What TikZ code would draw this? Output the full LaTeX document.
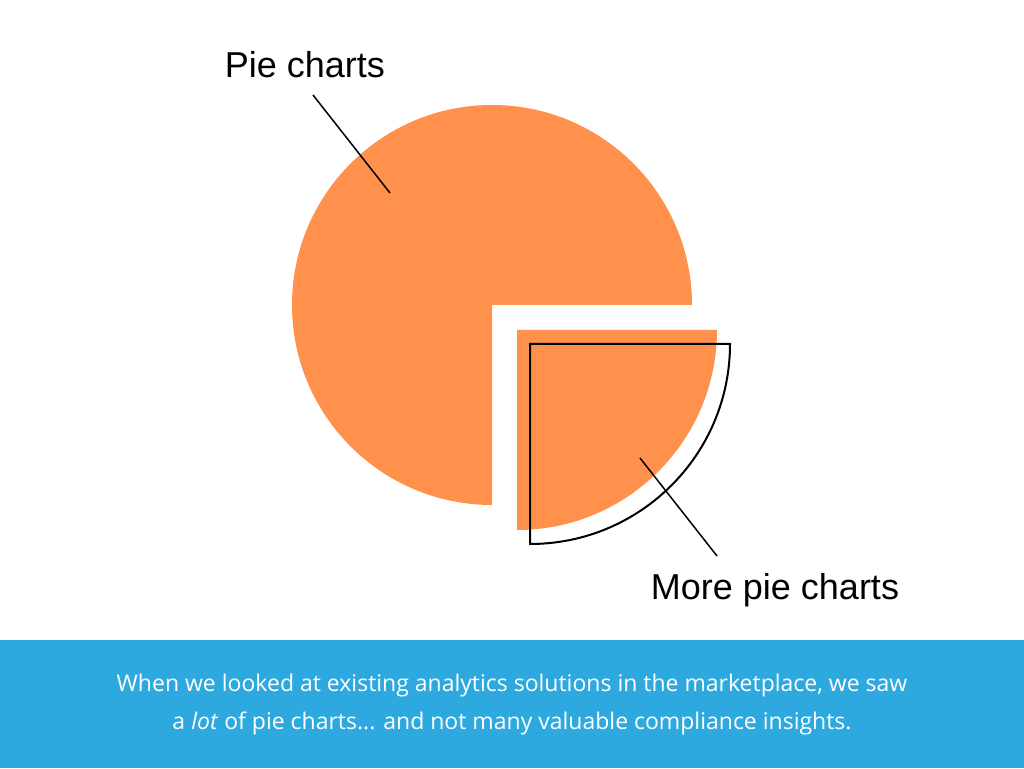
\documentclass[tikz,border=0pt]{standalone}
\usepackage{fontspec}
\setmainfont{Open Sans}
\newfontfamily\labelfont{Liberation Sans}
\definecolor{pieorange}{HTML}{FF914D}
\definecolor{bandblue}{HTML}{2EA9DF}
\begin{document}
\begin{tikzpicture}[x=1pt,y=1pt,
  lbl/.style={font=\labelfont\fontsize{36}{40}\selectfont,inner sep=0pt},
  ptr/.style={draw=black,line width=1.5pt},
  band/.style={font=\fontsize{23}{38}\selectfont,text=white,align=center,inner sep=0pt}]
\useasboundingbox (0,0) rectangle (1024,768);
\fill[white] (0,0) rectangle (1024,768);
\fill[bandblue] (0,0) rectangle (1024,128);
% big pie
\fill[pieorange] (492,463) -- ++(200,0) arc[start angle=0,end angle=270,radius=200] -- cycle;
% small slice
\fill[pieorange] (517,438) -- ++(200,0) arc[start angle=0,end angle=-90,radius=200] -- cycle;
% outline
\draw[line width=2pt,line join=miter] (530,424) -- ++(200,0) arc[start angle=0,end angle=-90,radius=200] -- cycle;
\node[lbl] (t1) at (305,703) {Pie charts};
\node[lbl] (t2) at (775,178) {More pie charts};
\coordinate (a1) at (313,673);
\coordinate (a2) at (390,575);
\coordinate (b1) at (640,310);
\coordinate (b2) at (717,212);
\draw[ptr] (a1) -- (a2);
\draw[ptr] (b1) -- (b2);
\node[band] (cap) at (512,63) {When we looked at existing analytics solutions in the marketplace, we saw\\ a \textit{lot} of pie charts... and not many valuable compliance insights.};
\end{tikzpicture}
\end{document}
